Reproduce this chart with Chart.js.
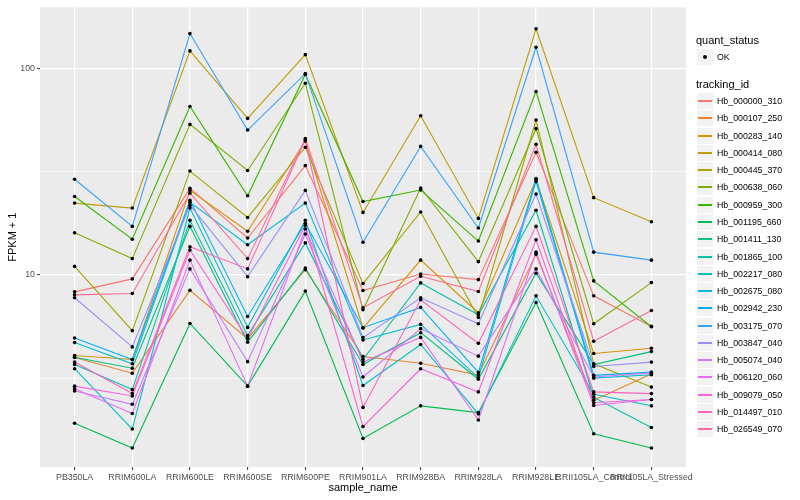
<!DOCTYPE html>
<html>
<head>
<meta charset="utf-8">
<script src="https://cdn.jsdelivr.net/npm/chart.js@4.4.1/dist/chart.umd.min.js"></script>
<style>
  body { margin: 0; background: #fff; font-family: "Liberation Sans", Arial, Helvetica, sans-serif; }
  #wrap { position: relative; width: 800px; height: 500px; }
  #legend div { position: absolute; white-space: nowrap; }
  .ltitle { font-size: 11px; line-height: 13px; color: #000; }
  .key { width: 16px; height: 16px; background: #F2F2F2; }
  .lab { font-size: 8.8px; line-height: 11px; color: #000; }
</style>
</head>
<body>
<div id="wrap">
  <canvas id="chart" width="800" height="500"></canvas>
  <div id="legend"></div>
</div>
<script>
const categories = ['PB350LA', 'RRIM600LA', 'RRIM600LE', 'RRIM600SE', 'RRIM600PE', 'RRIM901LA',
    'RRIM928BA', 'RRIM928LA', 'RRIM928LE', 'RRII105LA_Control', 'RRII105LA_Stressed'];

const trackingIds = ['Hb_000000_310', 'Hb_000107_250', 'Hb_000283_140', 'Hb_000414_080', 'Hb_000445_370',
    'Hb_000638_060', 'Hb_000959_300', 'Hb_001195_660', 'Hb_001411_130', 'Hb_001865_100',
    'Hb_002217_080', 'Hb_002675_080', 'Hb_002942_230', 'Hb_003175_070', 'Hb_003847_040',
    'Hb_005074_040', 'Hb_006120_060', 'Hb_009079_050', 'Hb_014497_010', 'Hb_026549_070'];

// FPKM + 1 par échantillon
const hb_000000_310 = [8.28, 9.57, 26.3, 15.1, 33.9, 8.40, 10.1, 9.49, 39.3, 7.92, 5.63];
const hb_000107_250 = [3.98, 3.34, 8.42, 4.91, 10.6, 4.02, 3.73, 3.27, 12.6, 2.47, 3.31];
const hb_000283_140 = [4.07, 3.89, 25.7, 16.3, 44.6, 5.53, 11.8, 6.56, 29.0, 4.16, 4.41];
const hb_000414_080 = [22.3, 21.1, 122, 57.4, 117, 20.1, 59.1, 18.8, 156, 23.7, 18.1];
const hb_000445_370 = [11.0, 5.37, 31.9, 19.0, 41.6, 9.08, 20.2, 6.22, 56.4, 3.71, 2.86];
const hb_000638_060 = [16.0, 12.0, 53.7, 32.1, 85.0, 6.78, 26.4, 11.6, 51.2, 5.80, 9.18];
const hb_000959_300 = [24.0, 14.9, 65.6, 24.2, 93.8, 22.7, 25.8, 14.6, 77.5, 9.36, 5.61];
const hb_001195_660 = [1.91, 1.45, 5.82, 2.89, 8.35, 1.61, 2.32, 2.15, 7.35, 1.70, 1.45];
const hb_001411_130 = [3.99, 3.53, 17.2, 4.72, 10.8, 3.68, 5.25, 3.12, 10.2, 3.68, 4.25];
const hb_001865_100 = [3.68, 2.78, 18.4, 5.08, 14.3, 3.89, 9.15, 6.41, 20.6, 2.55, 1.82];
const hb_002217_080 = [3.51, 1.79, 21.1, 5.57, 18.4, 2.91, 4.60, 2.12, 7.92, 2.64, 2.32];
const hb_002675_080 = [4.70, 3.71, 22.5, 14.0, 22.3, 4.84, 5.76, 3.18, 28.4, 3.16, 3.28];
const hb_002942_230 = [4.95, 3.89, 23.0, 6.29, 17.8, 5.55, 6.96, 3.37, 29.3, 3.26, 3.38];
const hb_003175_070 = [29.1, 17.2, 148, 50.4, 94.6, 14.4, 42.0, 16.9, 127, 12.9, 11.8];
const hb_003847_040 = [7.75, 4.48, 21.8, 9.81, 25.7, 4.97, 7.75, 5.80, 24.7, 3.60, 3.78];
const hb_005074_040 = [2.74, 2.36, 10.7, 3.80, 15.8, 3.20, 5.49, 4.04, 10.7, 3.20, 3.35];
const hb_006120_060 = [2.81, 2.13, 11.8, 2.89, 16.7, 3.78, 4.98, 1.98, 12.9, 2.33, 2.49];
const hb_009079_050 = [2.89, 2.59, 13.2, 4.91, 17.4, 1.84, 3.51, 2.71, 14.8, 2.40, 2.49];
const hb_014497_010 = [3.78, 2.66, 13.7, 10.7, 45.3, 2.28, 7.58, 4.66, 17.2, 2.71, 2.66];
const hb_026549_070 = [8.01, 8.13, 24.9, 12.0, 45.8, 6.93, 9.86, 8.31, 43.0, 4.77, 6.73];

const seriesValues = [hb_000000_310, hb_000107_250, hb_000283_140, hb_000414_080, hb_000445_370,
    hb_000638_060, hb_000959_300, hb_001195_660, hb_001411_130, hb_001865_100,
    hb_002217_080, hb_002675_080, hb_002942_230, hb_003175_070, hb_003847_040,
    hb_005074_040, hb_006120_060, hb_009079_050, hb_014497_010, hb_026549_070];

const yMajorTicks = [10, 100];
const yMinorTicks = [Math.pow(10, 0.5), Math.pow(10, 1.5)];

// palette ggplot (hue_pal, 20 niveaux)
const palette = ['#F8766D', '#EA8331', '#D89000', '#C09B00', '#A3A500', '#7CAE00', '#39B600', '#00BB4E',
    '#00BF7D', '#00C1A3', '#00BFC4', '#00BAE0', '#00B0F6', '#35A2FF', '#9590FF', '#C77CFF',
    '#E76BF3', '#FA62DB', '#FF62BC', '#FF6C91'];

const FONT = '"Liberation Sans", Arial, Helvetica, sans-serif';

// fond gris du panneau
const panelBg = {
    id: 'panelBg',
    beforeDraw(chart) {
        const { ctx, chartArea: a } = chart;
        ctx.save();
        ctx.fillStyle = '#EBEBEB';
        ctx.fillRect(a.left, a.top, a.right - a.left, a.bottom - a.top);
        ctx.restore();
    }
};

// lignes d'abord, points ensuite (par-dessus)
const datasets = seriesValues.map((vals, i) => ({
    label: trackingIds[i],
    data: vals.map((v, j) => ({ x: j, y: v })),
    borderColor: palette[i],
    borderWidth: 1.1,
    pointRadius: 0,
    fill: false,
    tension: 0,
    order: 100 - i
}));

const allPoints = [];
seriesValues.forEach(vals => vals.forEach((v, j) => allPoints.push({ x: j, y: v })));
datasets.push({
    label: 'OK',
    data: allPoints,
    showLine: false,
    pointRadius: 1.8,
    pointBackgroundColor: '#000',
    pointBorderWidth: 0,
    order: 0
});

const isMajor = (v) => yMajorTicks.some(m => Math.abs(m - v) < 1e-9);

new Chart(document.getElementById('chart'), {
    type: 'line',
    data: { datasets },
    options: {
        responsive: false,
        animation: false,
        layout: { padding: { left: 2, right: 114, top: 5, bottom: 1 } },
        plugins: {
            legend: { display: false },
            tooltip: { enabled: false }
        },
        scales: {
            x: {
                type: 'linear',
                position: 'bottom',
                min: -0.6,
                max: categories.length - 0.4,
                bounds: 'data',
                afterBuildTicks: (scale) => { scale.ticks = categories.map((c, i) => ({ value: i })); },
                afterFit: (scale) => { scale.height = 32; },
                grid: { color: '#FFFFFF', lineWidth: 1.2, tickLength: 3, tickColor: '#333333', tickWidth: 1 },
                border: { display: false },
                ticks: {
                    callback: (v) => categories[v] ?? '',
                    color: '#4D4D4D',
                    font: { size: 8.8, family: FONT },
                    padding: 2,
                    maxRotation: 0,
                    autoSkip: false
                },
                title: {
                    display: true,
                    text: 'sample_name',
                    color: '#000',
                    font: { size: 11, family: FONT },
                    padding: { top: 2, bottom: 4 }
                }
            },
            y: {
                type: 'logarithmic',
                min: 1.172,
                max: 198.5,
                bounds: 'data',
                afterBuildTicks: (scale) => {
                    scale.ticks = [yMinorTicks[0], yMajorTicks[0], yMinorTicks[1], yMajorTicks[1]].map(v => ({ value: v }));
                },
                afterFit: (scale) => { scale.width = 38; },
                grid: {
                    color: '#FFFFFF',
                    lineWidth: (ctx) => ctx.tick && isMajor(ctx.tick.value) ? 1.2 : 0.6,
                    tickLength: 3,
                    tickColor: (ctx) => ctx.tick && isMajor(ctx.tick.value) ? '#333333' : 'rgba(0,0,0,0)',
                    tickWidth: 1
                },
                border: { display: false },
                ticks: {
                    callback: (v) => isMajor(v) ? String(v) : '',
                    color: '#4D4D4D',
                    font: { size: 8.8, family: FONT },
                    padding: 2,
                    autoSkip: false
                },
                title: {
                    display: true,
                    text: 'FPKM + 1',
                    color: '#000',
                    font: { size: 11, family: FONT },
                    padding: { top: 4, bottom: 2 }
                }
            }
        }
    },
    plugins: [panelBg]
});

// légende façon ggplot
const legend = document.getElementById('legend');
function addDiv(cls, left, top, text, style) {
    const d = document.createElement('div');
    d.className = cls;
    d.style.left = left + 'px';
    d.style.top = top + 'px';
    if (text) d.textContent = text;
    if (style) Object.assign(d.style, style);
    legend.appendChild(d);
    return d;
}
addDiv('ltitle', 696, 34, 'quant_status');
addDiv('key', 697, 49);
addDiv('', 703, 55, '', { width: '4px', height: '4px', borderRadius: '50%', background: '#000' });
addDiv('lab', 717, 51.5, 'OK');
addDiv('ltitle', 696, 78, 'tracking_id');
trackingIds.forEach((id, i) => {
    const cy = Math.round(101 + i * 17.28);
    addDiv('key', 697, cy - 8);
    addDiv('', 698, cy - 1, '', { width: '14px', height: '2px', background: palette[i] });
    addDiv('lab', 717, cy - 5.5, id);
});
</script>
</body>
</html>
